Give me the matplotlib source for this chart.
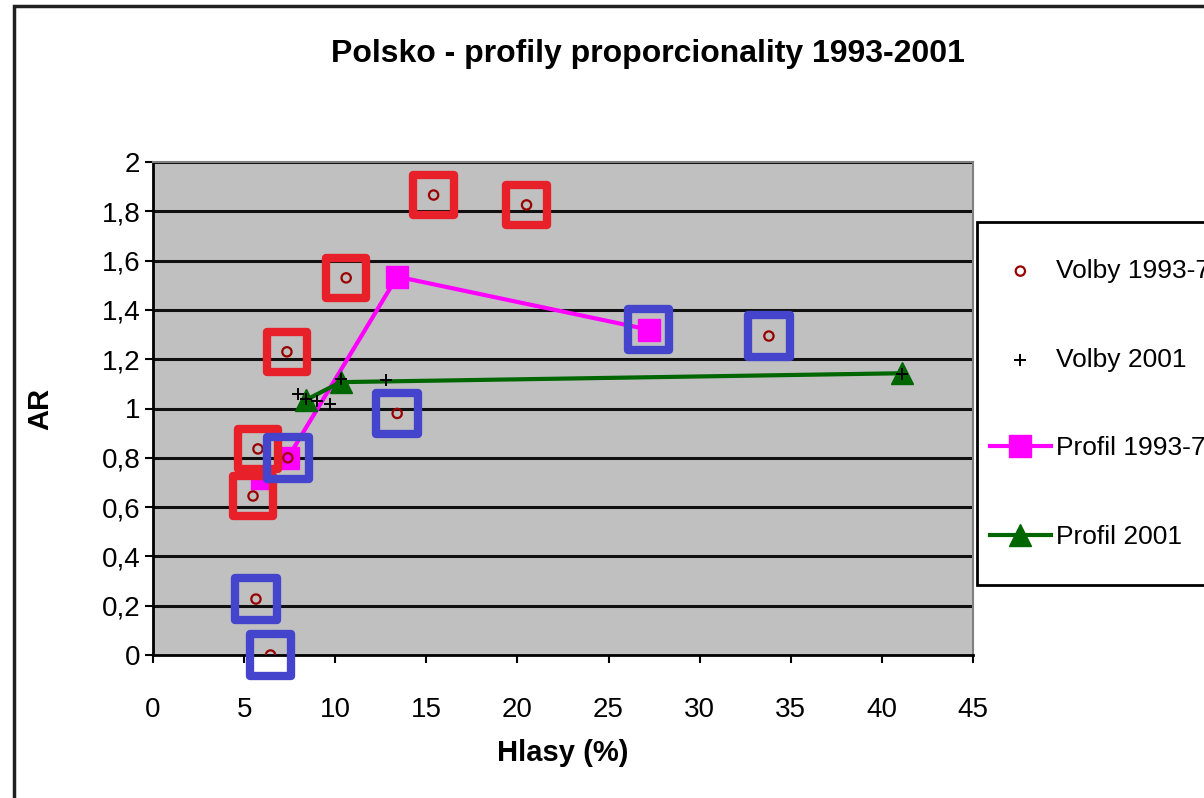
import matplotlib
matplotlib.use("Agg")
from matplotlib import pyplot as plt
from matplotlib.patches import Rectangle

plt.rcParams['font.family'] = ['Liberation Sans', 'DejaVu Sans']

# Volby 1993-7 (hlasy %, AR)
v93_x = [15.4, 20.5, 10.6, 7.35, 5.76, 5.49, 7.4, 13.4, 5.65, 6.45, 33.8]
v93_y = [1.866, 1.826, 1.53, 1.23, 0.836, 0.645, 0.80, 0.98, 0.227, 0.0, 1.294]

# Volby 2001
v01_x = [7.95, 8.4, 9.0, 9.7, 10.3, 12.8, 41.1]
v01_y = [1.06, 1.04, 1.03, 1.02, 1.12, 1.115, 1.14]

# profily
p93_x = [6.0, 7.4, 13.4, 27.2]
p93_y = [0.72, 0.80, 1.535, 1.32]
p01_x = [8.4, 10.3, 41.1]
p01_y = [1.035, 1.107, 1.143]

# zvyraznene body (indexy do Volby 1993-7)
red_idx = [0, 1, 2, 3, 4, 5]
blue_idx = [6, 7, 8, 9, 10]
blue_prof_idx = [3]

xticks = [0, 5, 10, 15, 20, 25, 30, 35, 40, 45]
yticks = [0, 0.2, 0.4, 0.6, 0.8, 1, 1.2, 1.4, 1.6, 1.8, 2]
ylabels = ['0', '0,2', '0,4', '0,6', '0,8', '1', '1,2', '1,4', '1,6', '1,8', '2']

W, H = 1204, 798
fig = plt.figure(figsize=(W / 100, H / 100), dpi=100)
ax = fig.add_axes([153 / W, 1 - 655 / H, (973 - 153) / W, (655 - 162) / H])
ax.set_facecolor('#c0c0c0')

for t in yticks[1:]:
    ax.axhline(t, color='#101010', lw=2.2, zorder=1)

ax.plot(p93_x, p93_y, color='#ff00ff', lw=3, marker='s', ms=16, zorder=3, label='Profil 1993-7')
ax.plot(p01_x, p01_y, color='#006600', lw=3, marker='^', ms=16, zorder=3, label='Profil 2001')
ax.scatter(v93_x, v93_y, s=45, facecolors='none', edgecolors='#990000', linewidths=1.6,
           zorder=4, label='Volby 1993-7')
ax.scatter(v01_x, v01_y, s=70, marker='+', color='black', linewidths=1.4, zorder=4,
           label='Volby 2001')

ax.scatter([v93_x[i] for i in red_idx], [v93_y[i] for i in red_idx], s=850, marker='s',
           facecolors='none', edgecolors='#e8202a', linewidths=6, zorder=5)
bx = [v93_x[i] for i in blue_idx] + [p93_x[i] for i in blue_prof_idx]
by = [v93_y[i] for i in blue_idx] + [p93_y[i] for i in blue_prof_idx]
ax.scatter(bx, by, s=900, marker='s', facecolors='none', edgecolors='#4444cc',
           linewidths=6, zorder=5, clip_on=False)

ax.set_xlim(0, 45)
ax.set_ylim(0, 2)
ax.set_xticks(xticks)
ax.set_yticks(yticks)
ax.set_yticklabels(ylabels)
ax.tick_params(direction='out', length=6, width=1.5, labelsize=20, colors='black')
ax.tick_params(axis='x', pad=24)
ax.tick_params(axis='y', pad=3)
for s in ['left', 'bottom']:
    ax.spines[s].set_color('black')
    ax.spines[s].set_linewidth(2)
for s in ['top', 'right']:
    ax.spines[s].set_color('#808080')
    ax.spines[s].set_linewidth(1.5)

ax.set_xlabel('Hlasy (%)', fontsize=21, fontweight='bold', labelpad=12)
ax.set_ylabel('AR', fontsize=21, fontweight='bold', labelpad=34)
fig.text(648 / W, 1 - 54 / H, 'Polsko - profily proporcionality 1993-2001', ha='center',
         va='center', fontsize=23, fontweight='bold')

# legenda - ramecek zvlast, pretece pres pravy okraj
fig.patches.append(Rectangle((977 / W, 1 - 585 / H), 0.3, (585 - 222) / H,
                             transform=fig.transFigure, facecolor='white',
                             edgecolor='black', lw=2, zorder=2))
h, l = ax.get_legend_handles_labels()
order = [2, 3, 0, 1]
leg = fig.legend([h[i] for i in order], [l[i] for i in order], loc='center left',
                 bbox_to_anchor=(990 / W, 1 - 404 / H), fontsize=19, labelspacing=2.45,
                 handlelength=2.3, handletextpad=0.2, borderpad=0, frameon=False,
                 borderaxespad=0)
leg.set_zorder(3)

fig.patches.append(Rectangle((14 / W, -0.1), 1.2, 1 - 6 / H + 0.1, transform=fig.transFigure,
                             fill=False, edgecolor='#202020', lw=2.5, zorder=0))

fig.savefig('out.png', dpi=100)
